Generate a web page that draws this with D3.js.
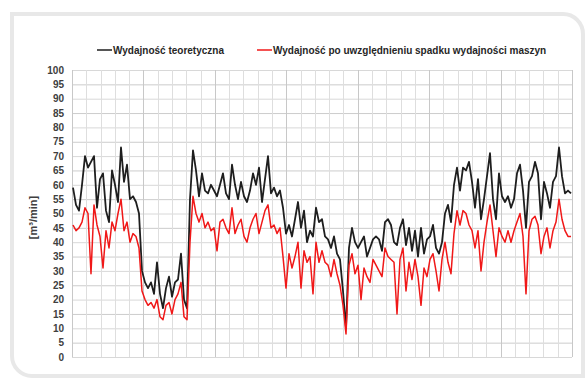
<!DOCTYPE html>
<html>
<head>
<meta charset="utf-8">
<script src="https://cdn.jsdelivr.net/npm/d3@7"></script>
<style>
  html, body { margin: 0; padding: 0; background: #fff; }
  svg { display: block; font-family: "Liberation Sans", Arial, sans-serif; }
</style>
</head>
<body>
<div id="chart"></div>
<script>
const seriesNames = ['Wydajność teoretyczna', 'Wydajność po uwzględnieniu spadku wydajności maszyn']
const yTicks = [0, 5, 10, 15, 20, 25, 30, 35, 40, 45, 50, 55, 60, 65, 70, 75, 80, 85, 90, 95, 100]
const yLabel = '[m³/min]'

const theoretical = [
  59, 53, 51, 60, 70, 66, 68, 70, 52, 62, 64, 51, 47, 65, 60, 54, 73, 61, 67, 55,
  56, 54, 50, 30, 26, 24, 26, 22, 33, 22, 17, 24, 28, 21, 26, 27, 36, 20, 17, 55,
  72, 65, 56, 64, 58, 57, 60, 58, 56, 60, 64, 57, 55, 67, 60, 55, 61, 56, 54, 58,
  64, 60, 66, 54, 62, 70, 57, 59, 56, 58, 52, 43, 46, 42, 48, 54, 45, 51, 40, 44,
  42, 52, 47, 48, 42, 41, 38, 42, 36, 34, 23, 10, 38, 45, 40, 38, 40, 42, 35, 38,
  41, 42, 41, 37, 47, 48, 46, 40, 39, 45, 48, 39, 45, 37, 44, 35, 45, 36, 41, 42,
  46, 38, 36, 40, 50, 53, 47, 60, 66, 58, 66, 65, 68, 61, 52, 62, 48, 55, 63, 71,
  55, 48, 64, 56, 54, 56, 52, 55, 64, 67, 58, 45, 61, 63, 68, 64, 48, 61, 57, 52,
  61, 63, 73, 63, 57, 58, 57
]

const afterDrop = [
  46, 44, 45, 47, 52, 50, 29, 53, 46, 42, 31, 44, 38, 47, 44, 50, 55, 44, 47, 40,
  43, 42, 38, 23, 20, 18, 19, 17, 20, 14, 13, 18, 19, 15, 20, 22, 26, 14, 13, 40,
  56, 50, 47, 50, 45, 47, 44, 45, 37, 47, 48, 45, 43, 52, 43, 46, 48, 42, 40, 45,
  48, 50, 43, 47, 51, 53, 45, 46, 43, 45, 35, 24, 36, 31, 35, 40, 24, 37, 33, 35,
  22, 40, 33, 37, 33, 32, 28, 34, 29, 25, 18, 8, 32, 36, 29, 32, 20, 31, 28, 26,
  34, 32, 30, 28, 38, 35, 34, 33, 15, 34, 38, 23, 33, 27, 34, 28, 18, 31, 28, 34,
  36, 30, 23, 34, 40, 33, 29, 43, 51, 46, 51, 50, 46, 44, 38, 44, 30, 40, 47, 53,
  44, 35, 45, 42, 40, 44, 40, 44, 47, 50, 42, 22, 44, 48, 49, 46, 36, 42, 45, 38,
  44, 47, 55, 48, 44, 42, 42
]

const width = 585
const height = 379
const margin = { top: 70, right: 13, bottom: 22, left: 72 }
const gridColumns = 35

const svg = d3.select('#chart').append('svg')
  .attr('width', width)
  .attr('height', height)

// card frame: square top-left, rounded top-right and bottom-left
const frame = d3.path()
frame.moveTo(12, 14)
frame.lineTo(563, 14)
frame.arcTo(583, 14, 583, 34, 20)
frame.lineTo(583, 376)
frame.lineTo(32, 376)
frame.arcTo(12, 376, 12, 356, 20)
frame.closePath()
svg.append('path')
  .attr('d', frame.toString())
  .attr('fill', '#fff')
  .attr('stroke', '#e8e8e8')
  .attr('stroke-width', 4)

const x = d3.scaleLinear()
  .domain([0, theoretical.length - 1])
  .range([margin.left + 1, width - margin.right - 1])

const xGrid = d3.scaleLinear()
  .domain([0, gridColumns])
  .range([margin.left, width - margin.right])

const y = d3.scaleLinear()
  .domain([0, 100])
  .range([height - margin.bottom, margin.top])

const grid = svg.append('g')

grid.selectAll('line.h')
  .data(yTicks).enter().append('line')
  .attr('class', 'h')
  .attr('x1', xGrid(0))
  .attr('x2', xGrid(gridColumns))
  .attr('y1', d => y(d) + 0.5)
  .attr('y2', d => y(d) + 0.5)
  .attr('stroke', d => d % 10 === 5 ? '#cccccc' : '#d8d8d8')
  .attr('stroke-width', 1)

grid.selectAll('line.v')
  .data(d3.range(0, gridColumns + 1)).enter().append('line')
  .attr('class', 'v')
  .attr('x1', d => Math.round(xGrid(d)) + 0.5)
  .attr('x2', d => Math.round(xGrid(d)) + 0.5)
  .attr('y1', y(100))
  .attr('y2', y(0))
  .attr('stroke', d => d % 5 === 0 ? '#c8c8c8' : '#dedede')
  .attr('stroke-width', 1)

const yAxis = svg.append('g')
  .attr('transform', `translate(${margin.left},0)`)
  .call(d3.axisLeft(y).tickValues(yTicks).tickSize(0).tickPadding(8))

yAxis.select('.domain').remove()
yAxis.selectAll('text')
  .attr('fill', '#404040')
  .style('font-size', '10px')
  .style('font-weight', 'bold')

svg.append('text')
  .attr('transform', `translate(37,${(y(0) + y(100)) / 2 + 4}) rotate(-90)`)
  .attr('text-anchor', 'middle')
  .attr('fill', '#404040')
  .style('font-size', '11px')
  .style('font-weight', 'bold')
  .text(yLabel)

const line = d3.line()
  .x((d, i) => x(i))
  .y(d => y(d))

svg.append('path')
  .datum(theoretical)
  .attr('fill', 'none')
  .attr('stroke', '#1e1e1e')
  .attr('stroke-width', 1.8)
  .attr('stroke-linejoin', 'round')
  .attr('d', line)

svg.append('path')
  .datum(afterDrop)
  .attr('fill', 'none')
  .attr('stroke', '#f01818')
  .attr('stroke-width', 1.5)
  .attr('stroke-linejoin', 'round')
  .attr('d', line)

const legendItems = [
  { name: seriesNames[0], color: '#1e1e1e', x: 97 },
  { name: seriesNames[1], color: '#f01818', x: 257 }
]

const legend = svg.selectAll('g.legend')
  .data(legendItems).enter().append('g')
  .attr('class', 'legend')
  .attr('transform', d => `translate(${d.x},50)`)

legend.append('line')
  .attr('x1', 0)
  .attr('x2', 15)
  .attr('stroke', d => d.color)
  .attr('stroke-width', 1.5)

legend.append('text')
  .attr('x', 16)
  .attr('y', 3.5)
  .attr('fill', '#262626')
  .style('font-size', '10px')
  .style('font-weight', 'bold')
  .text(d => d.name)
</script>
</body>
</html>
